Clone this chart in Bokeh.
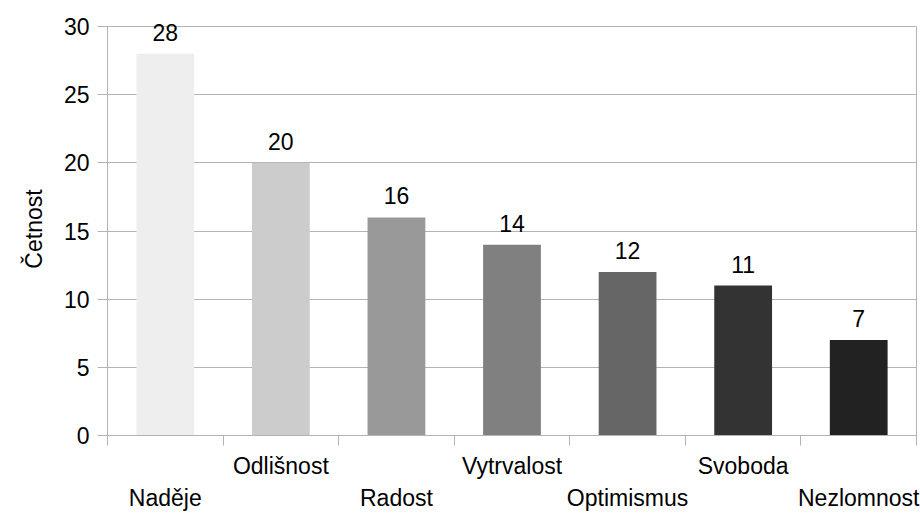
from bokeh.plotting import figure
from bokeh.models import Range1d, FixedTicker, LinearAxis, ColumnDataSource, LabelSet
from bokeh.core.properties import value
from bokeh.embed import file_html
from bokeh.resources import INLINE

categories = ["Naděje", "Odlišnost", "Radost", "Vytrvalost", "Optimismus", "Svoboda", "Nezlomnost"]
counts = [28, 20, 16, 14, 12, 11, 7]
colors = ["#eeeeee", "#cccccc", "#999999", "#808080", "#666666", "#333333", "#222222"]
y_ticks = [0, 5, 10, 15, 20, 25, 30]
y_label = "Četnost"

FONT = "Liberation Sans"
FS = "23px"
AXC = "#b3b3b3"

n = len(categories)
centers = [i + 0.5 for i in range(n)]
bounds = list(range(n + 1))
y_max = y_ticks[-1]

src = ColumnDataSource(dict(x=centers, top=counts, color=colors,
                            label=[str(v) for v in counts]))

p = figure(width=920, height=513, x_range=Range1d(0, n), y_range=Range1d(0, y_max * 1.01),
           output_backend="svg", toolbar_location=None, x_axis_location=None,
           min_border_left=107, min_border_right=4, min_border_top=22, min_border_bottom=76)
p.background_fill_color = "white"
p.border_fill_color = "white"
p.outline_line_color = None

p.xgrid.visible = False
p.ygrid.grid_line_color = AXC
p.ygrid.ticker = FixedTicker(ticks=y_ticks)

ya = p.yaxis[0]
ya.ticker = FixedTicker(ticks=y_ticks)
ya.bounds = (0, y_max)
ya.axis_line_color = AXC
ya.major_tick_line_color = AXC
ya.major_tick_out = 10
ya.major_tick_in = 0
ya.minor_tick_line_color = None
ya.major_label_text_font = FONT
ya.major_label_text_font_size = FS
ya.major_label_text_color = "black"
ya.major_label_standoff = 8
ya.axis_label = y_label
ya.axis_label_text_font = FONT
ya.axis_label_text_font_size = FS
ya.axis_label_text_font_style = "normal"
ya.axis_label_text_color = "black"
ya.axis_label_standoff = 14

# right frame border
ra = LinearAxis(ticker=FixedTicker(ticks=[], minor_ticks=[]), bounds=(0, y_max))
ra.axis_line_color = AXC
ra.major_tick_line_color = None
ra.minor_tick_line_color = None
ra.major_tick_out = 0
ra.major_tick_in = 0
ra.minor_tick_out = 0
ra.minor_tick_in = 0
ra.major_label_standoff = 0
ra.major_label_text_font_size = "0px"
p.add_layout(ra, "right")

ax1 = LinearAxis(ticker=FixedTicker(ticks=centers, minor_ticks=bounds),
                 major_label_overrides={c: (categories[i] if i % 2 == 1 else "")
                                        for i, c in enumerate(centers)})
ax1.axis_line_color = AXC
ax1.major_tick_line_color = None
ax1.major_tick_out = 0
ax1.major_tick_in = 0
ax1.minor_tick_line_color = AXC
ax1.minor_tick_out = 10
ax1.minor_tick_in = 0
ax1.major_label_text_font = FONT
ax1.major_label_text_font_size = FS
ax1.major_label_text_color = "black"
ax1.major_label_standoff = 7

ax2 = LinearAxis(ticker=FixedTicker(ticks=centers, minor_ticks=[]),
                 major_label_overrides={c: (categories[i] if i % 2 == 0 else "")
                                        for i, c in enumerate(centers)})
ax2.axis_line_color = None
ax2.major_tick_line_color = None
ax2.minor_tick_line_color = None
ax2.major_tick_out = 0
ax2.major_tick_in = 0
ax2.major_label_text_font = FONT
ax2.major_label_text_font_size = FS
ax2.major_label_text_color = "black"
ax2.major_label_standoff = 3

p.add_layout(ax1, "below")
p.add_layout(ax2, "below")

p.vbar(x="x", top="top", width=0.5, bottom=0, color="color", line_color=None, source=src)
labels = LabelSet(x="x", y="top", text="label", source=src, text_align="center",
                  text_baseline="alphabetic", y_offset=13, text_font=value(FONT),
                  text_font_size=value(FS), text_color="black")
p.add_layout(labels)

open("out.html", "w").write(file_html(p, INLINE))
